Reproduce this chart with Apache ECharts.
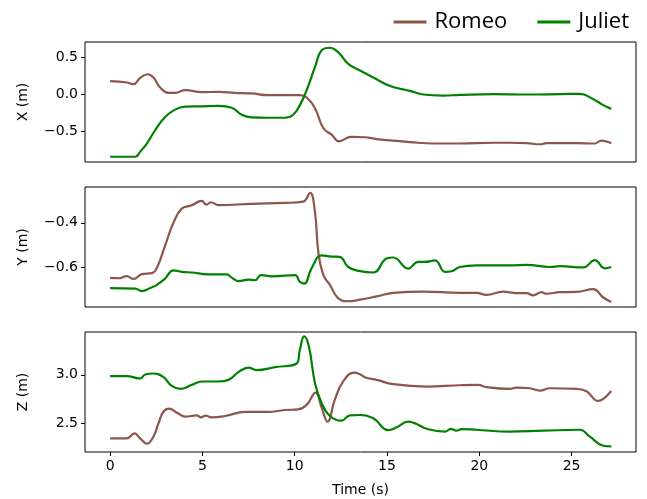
<!DOCTYPE html>
<html>
<head>
<meta charset="utf-8">
<script src="https://cdn.jsdelivr.net/npm/echarts@6/dist/echarts.min.js"></script>
<style>
  html, body { margin: 0; padding: 0; background: #fff; }
  #chart { width: 647px; height: 499px; }
</style>
</head>
<body>
<div id="chart"></div>
<script>
// ---------- data ----------
const seriesNames = ['Romeo', 'Juliet'];
const axisNames = ['X (m)', 'Y (m)', 'Z (m)'];
const xTickValues = [0, 5, 10, 15, 20, 25];
const yTickValuesX = [-0.5, 0, 0.5];
const yTickValuesY = [-0.6, -0.4];
const yTickValuesZ = [2.5, 3.0];

const tRomeoX = [0, 0.9, 1.27, 1.63, 2.04, 2.35, 2.71, 3.16, 3.52, 4.07, 4.96, 5.87, 6.77, 7.67, 8.57, 9.47, 10.28, 10.65, 11.1, 11.55, 12.0, 12.4, 13.06, 13.8, 14.44, 15.34, 16.24, 17.5, 18.95, 20.75, 21.65, 22.56, 23.28, 23.64, 25.27, 26.26, 26.61, 26.92, 27.15];
const romeoX = [0.176, 0.158, 0.135, 0.22, 0.27, 0.225, 0.09, 0.018, 0.018, 0.054, 0.027, 0.032, 0.018, 0.01, -0.014, -0.014, -0.014, -0.045, -0.19, -0.46, -0.55, -0.64, -0.58, -0.585, -0.61, -0.63, -0.65, -0.67, -0.67, -0.66, -0.66, -0.665, -0.68, -0.665, -0.665, -0.67, -0.63, -0.645, -0.665];

const tJulietX = [0, 1.36, 1.63, 1.99, 2.44, 2.98, 3.52, 4.07, 4.96, 5.87, 6.59, 7.13, 7.67, 8.57, 9.47, 9.92, 10.28, 10.65, 11.1, 11.46, 11.91, 12.35, 12.9, 13.54, 14.26, 15.17, 16.24, 16.96, 18.05, 18.95, 20.75, 22.56, 24.36, 25.45, 26.11, 26.72, 27.15];
const julietX = [-0.85, -0.85, -0.78, -0.67, -0.49, -0.31, -0.21, -0.17, -0.165, -0.16, -0.185, -0.28, -0.315, -0.32, -0.32, -0.28, -0.149, 0.054, 0.37, 0.595, 0.63, 0.57, 0.41, 0.32, 0.225, 0.11, 0.045, -0.005, -0.02, -0.01, 0.0, -0.005, 0.0, 0.005, -0.058, -0.149, -0.2];

const tRomeoY = [0, 0.45, 0.9, 1.27, 1.72, 2.26, 2.53, 2.98, 3.43, 3.88, 4.42, 4.96, 5.22, 5.46, 5.87, 7.67, 9.47, 10.46, 10.83, 11.1, 11.28, 11.55, 11.91, 12.35, 12.9, 13.54, 14.44, 15.34, 16.96, 18.95, 19.85, 20.39, 21.29, 22.01, 22.56, 22.92, 23.37, 23.64, 24.36, 25.27, 26.17, 26.72, 27.15];
const romeoY = [-0.649, -0.651, -0.641, -0.654, -0.632, -0.628, -0.605, -0.503, -0.4, -0.336, -0.321, -0.301, -0.318, -0.307, -0.32, -0.314, -0.31, -0.304, -0.264, -0.354, -0.532, -0.636, -0.681, -0.741, -0.755, -0.748, -0.733, -0.717, -0.711, -0.717, -0.717, -0.726, -0.711, -0.718, -0.718, -0.728, -0.714, -0.721, -0.714, -0.713, -0.7, -0.738, -0.758];

const tJulietY = [0, 1.36, 1.72, 2.17, 2.53, 2.98, 3.43, 3.88, 4.42, 5.32, 6.32, 6.59, 6.98, 7.49, 7.85, 8.17, 8.76, 10.01, 10.28, 10.51, 10.92, 11.46, 12.0, 12.44, 12.9, 13.54, 14.26, 14.97, 15.34, 16.15, 16.69, 17.05, 17.6, 18.14, 18.5, 18.95, 19.85, 21.65, 22.56, 23.82, 24.36, 25.63, 26.26, 26.8, 27.15];
const julietY = [-0.696, -0.698, -0.709, -0.695, -0.681, -0.652, -0.615, -0.622, -0.625, -0.633, -0.633, -0.648, -0.664, -0.657, -0.66, -0.637, -0.642, -0.637, -0.667, -0.675, -0.605, -0.547, -0.553, -0.554, -0.6, -0.619, -0.625, -0.562, -0.557, -0.607, -0.577, -0.577, -0.57, -0.622, -0.619, -0.6, -0.593, -0.593, -0.59, -0.6, -0.596, -0.602, -0.569, -0.606, -0.6];

const tRomeoZ = [0, 0.9, 1.32, 1.63, 1.99, 2.35, 2.62, 2.89, 3.19, 3.62, 4.07, 4.69, 4.92, 5.17, 5.5, 6.23, 7.31, 8.57, 9.47, 10.19, 10.65, 11.13, 11.46, 11.78, 12.17, 12.62, 13.23, 13.54, 13.8, 14.44, 15.34, 17.14, 18.95, 19.94, 20.39, 21.65, 22.01, 22.74, 23.28, 23.82, 25.27, 25.81, 26.44, 26.72, 27.15];
const romeoZ = [2.34, 2.34, 2.392, 2.34, 2.285, 2.36, 2.497, 2.618, 2.649, 2.607, 2.566, 2.58, 2.559, 2.576, 2.559, 2.573, 2.615, 2.615, 2.635, 2.642, 2.688, 2.816, 2.66, 2.514, 2.74, 2.93, 3.024, 3.007, 2.976, 2.948, 2.903, 2.878, 2.892, 2.896, 2.872, 2.854, 2.868, 2.861, 2.837, 2.861, 2.854, 2.83, 2.729, 2.75, 2.833];

const tJulietZ = [0, 0.9, 1.63, 1.9, 2.35, 2.89, 3.34, 3.8, 4.42, 4.96, 5.87, 6.41, 6.95, 7.49, 7.94, 8.94, 10.1, 10.28, 10.51, 10.77, 11.1, 11.46, 11.91, 12.53, 12.99, 13.54, 14.26, 15.06, 15.52, 16.15, 16.6, 17.14, 18.14, 18.46, 18.77, 19.04, 19.85, 21.65, 23.46, 25.45, 25.99, 26.72, 27.15];
const julietZ = [2.986, 2.986, 2.962, 3.003, 3.014, 2.976, 2.885, 2.854, 2.896, 2.931, 2.931, 2.948, 3.028, 3.076, 3.049, 3.08, 3.118, 3.26, 3.399, 3.295, 2.913, 2.705, 2.573, 2.524, 2.58, 2.583, 2.549, 2.427, 2.455, 2.514, 2.49, 2.44, 2.41, 2.44, 2.42, 2.437, 2.43, 2.41, 2.42, 2.43, 2.358, 2.264, 2.257];

// ---------- helpers ----------
const zip = (ts, vs) => ts.map((t, i) => [t, vs[i]]);
const fmt = v => v.toFixed(1).replace('-', '\u2212');
const colors = { Romeo: '#8c564b', Juliet: '#008000' };
const tickFont = { fontFamily: 'DejaVu Sans', fontSize: 14, color: '#000' };

const grids = [42, 187, 332].map(top => ({
  left: 85, right: 11, top: top, height: 120,
  show: true, borderColor: '#000', borderWidth: 1, backgroundColor: 'transparent'
}));

const xRange = { min: -1.36, max: 28.49 };
const xAxes = [0, 1, 2].map(i => ({
  type: 'value', gridIndex: i, min: xRange.min, max: xRange.max, position: 'bottom',
  splitLine: { show: false }, axisLine: { show: false, onZero: false },
  axisTick: { show: i === 2, inside: false, length: 4, lineStyle: { color: '#000' }, customValues: xTickValues },
  axisLabel: { show: i === 2, margin: 7, customValues: xTickValues, formatter: v => String(v), ...tickFont },
  name: i === 2 ? 'Time (s)' : '', nameLocation: 'middle', nameGap: 31,
  nameTextStyle: { fontFamily: 'DejaVu Sans', fontSize: 14, color: '#000' }
}));

const yRanges = [
  { min: -0.921, max: 0.708, ticks: yTickValuesX },
  { min: -0.781, max: -0.238, ticks: yTickValuesY },
  { min: 2.199, max: 3.445, ticks: yTickValuesZ }
];
const yAxes = yRanges.map((r, i) => ({
  type: 'value', gridIndex: i, min: r.min, max: r.max, position: 'left',
  splitLine: { show: false }, axisLine: { show: false, onZero: false },
  axisTick: { show: true, length: 4, lineStyle: { color: '#000' }, customValues: r.ticks },
  axisLabel: { margin: 7, customValues: r.ticks, formatter: fmt, ...tickFont },
  name: axisNames[i], nameLocation: 'middle', nameGap: 55, nameRotate: 90,
  nameTextStyle: { fontFamily: 'DejaVu Sans', fontSize: 14, color: '#000' }
}));

const data = [
  [zip(tRomeoX, romeoX), zip(tJulietX, julietX)],
  [zip(tRomeoY, romeoY), zip(tJulietY, julietY)],
  [zip(tRomeoZ, romeoZ), zip(tJulietZ, julietZ)]
];

const series = [];
data.forEach((pair, gi) => {
  pair.forEach((d, si) => {
    const name = seriesNames[si];
    series.push({
      type: 'line', name: name, xAxisIndex: gi, yAxisIndex: gi,
      data: d, showSymbol: false, symbol: 'none',
      smooth: 0.45,
      lineStyle: { color: colors[name], width: 2.2 },
      itemStyle: { color: colors[name] }
    });
  });
});

const chart = echarts.init(document.getElementById('chart'), null, { renderer: 'canvas' });
chart.setOption({
  animation: false,
  backgroundColor: '#fff',
  legend: {
    data: seriesNames, right: 13, top: 6,
    icon: 'rect', itemWidth: 33, itemHeight: 3, itemGap: 30,
    textStyle: { fontFamily: 'Open Sans', fontSize: 22, color: '#000', padding: [0, 0, 0, 3] }
  },
  grid: grids,
  xAxis: xAxes,
  yAxis: yAxes,
  series: series
});
</script>
</body>
</html>
